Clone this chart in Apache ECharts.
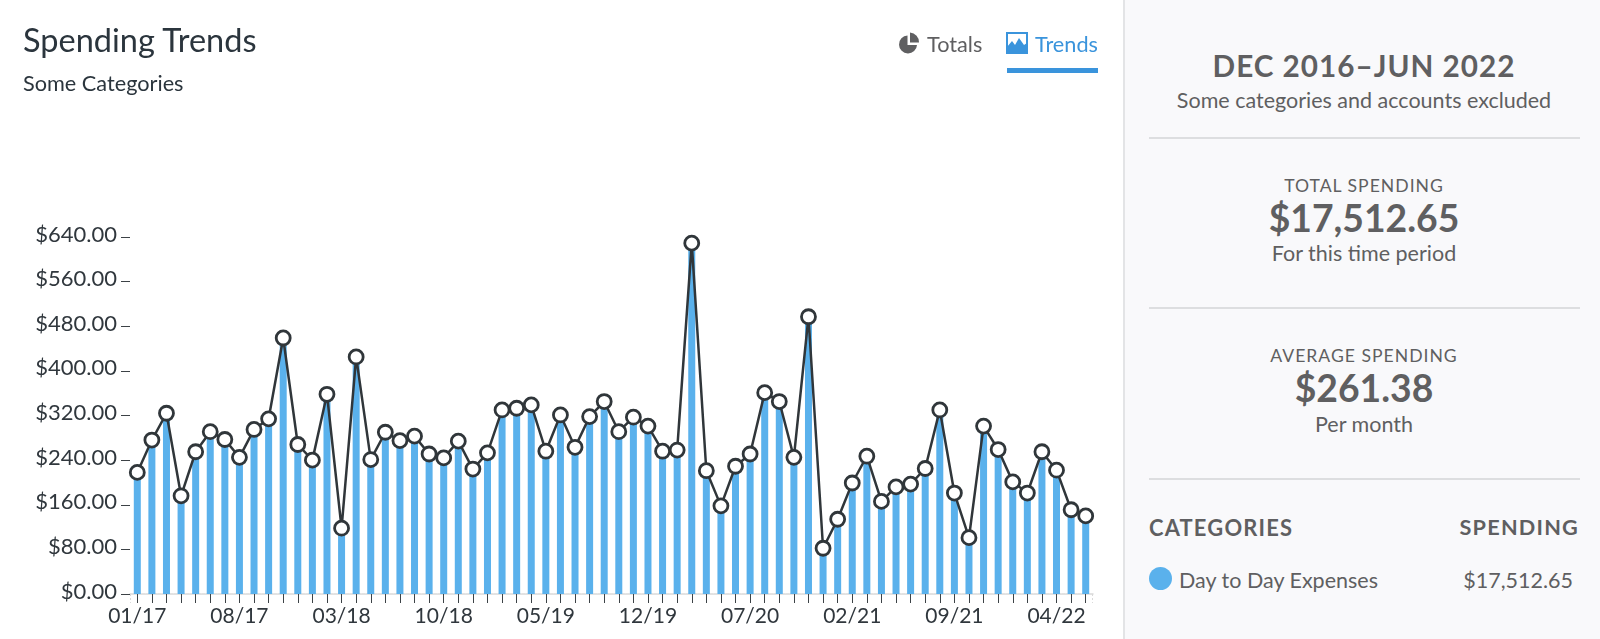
<!DOCTYPE html>
<html>
<head>
<meta charset="utf-8">
<script src="https://cdn.jsdelivr.net/npm/echarts@6/dist/echarts.min.js"></script>
<style>
html,body{margin:0;padding:0;background:#fff;width:1600px;height:639px;overflow:hidden;font-family:Lato,sans-serif;}
#chart{position:absolute;left:0;top:0;width:1123px;height:639px;}
#panel{position:absolute;left:1123px;top:0;width:477px;height:639px;background:#f9f9fb;border-left:2px solid #e3e4e6;box-sizing:border-box;}
.t{position:absolute;white-space:nowrap;transform:translateY(-50%);line-height:1;}
.c{transform:translate(-50%,-50%);}
.r{transform:translate(-100%,-50%);}
.hr{position:absolute;left:1149px;width:431px;height:1.5px;background:#dddee0;}
.g{color:#5f5f61;}
.b{font-weight:700;}
</style>
</head>
<body>
<div id="chart"></div>
<div id="panel"></div>
<div class="t" style="left:23px;top:40px;font-size:32.5px;color:#2b353d">Spending Trends</div>
<div class="t" style="left:23px;top:83.5px;font-size:21.7px;color:#2b353d">Some Categories</div>

<svg style="position:absolute;left:898px;top:32px" width="22" height="22" viewBox="0 0 22 22">
<path d="M9.5 3.5 A9 9 0 1 0 19 13 L9.5 13 Z" fill="#5f5f61"/><path d="M12 0.5 A9.5 9.5 0 0 1 21 10.5 L12 10.5 Z" fill="#5f5f61"/></svg>
<div class="t g" style="left:927px;top:44.5px;font-size:21.7px">Totals</div>
<svg style="position:absolute;left:1006px;top:32px" width="22" height="22" viewBox="0 0 22 22">
<rect x="1" y="1" width="20" height="20" fill="#fff" stroke="#3a94dc" stroke-width="2"/>
<path d="M1 21 L1 15 L6 9 L9 13 L13 6 L18 13 L21 11 L21 21 Z" fill="#3a94dc"/></svg>
<div class="t" style="left:1035px;top:44.5px;font-size:21.7px;color:#3a94dc">Trends</div>
<div style="position:absolute;left:1007px;top:68px;width:91px;height:5px;background:#3a94dc"></div>

<div class="t c g b" style="left:1364px;top:66px;font-size:29.7px;letter-spacing:1px">DEC 2016–JUN 2022</div>
<div class="t c g" style="left:1364px;top:100.5px;font-size:21.5px">Some categories and accounts excluded</div>
<div class="hr" style="top:137px"></div>
<div class="t c g" style="left:1364px;top:186px;font-size:17.6px;letter-spacing:1px">TOTAL SPENDING</div>
<div class="t c g b" style="left:1364px;top:218px;font-size:37.3px">$17,512.65</div>
<div class="t c g" style="left:1364px;top:254px;font-size:21.5px">For this time period</div>
<div class="hr" style="top:307px"></div>
<div class="t c g" style="left:1364px;top:356px;font-size:17.6px;letter-spacing:1px">AVERAGE SPENDING</div>
<div class="t c g b" style="left:1364px;top:388px;font-size:37.3px">$261.38</div>
<div class="t c g" style="left:1364px;top:425px;font-size:21.5px">Per month</div>
<div class="hr" style="top:478px"></div>
<div class="t g b" style="left:1149px;top:528px;font-size:21.9px;letter-spacing:1.2px">CATEGORIES</div>
<div class="t r g b" style="left:1579px;top:528px;font-size:21.7px;letter-spacing:1.2px">SPENDING</div>
<div style="position:absolute;left:1149px;top:567px;width:23px;height:23px;border-radius:50%;background:#5ab1ec"></div>
<div class="t g" style="left:1179px;top:581px;font-size:21.5px">Day to Day Expenses</div>
<div class="t r g" style="left:1573px;top:581px;font-size:21.5px">$17,512.65</div>

<script>
var categories = ["01/17","02/17","03/17","04/17","05/17","06/17","07/17","08/17","09/17","10/17","11/17","12/17",
"01/18","02/18","03/18","04/18","05/18","06/18","07/18","08/18","09/18","10/18","11/18","12/18",
"01/19","02/19","03/19","04/19","05/19","06/19","07/19","08/19","09/19","10/19","11/19","12/19",
"01/20","02/20","03/20","04/20","05/20","06/20","07/20","08/20","09/20","10/20","11/20","12/20",
"01/21","02/21","03/21","04/21","05/21","06/21","07/21","08/21","09/21","10/21","11/21","12/21",
"01/22","02/22","03/22","04/22","05/22","06/22"];
var spending = [218,276,324,176,255,291,277,245,295,314,459,268,
240,358,118,425,241,290,275,283,251,244,274,224,
253,330,333,339,256,321,263,318,345,291,317,301,
256,258,629,221,158,229,251,361,345,245,497,82,
134,199,247,166,192,197,225,330,181,101,301,259,
201,181,255,222,151,140];
var yTicks = {min:0, max:640, step:80};
var seriesName = "Day to Day Expenses";

var chart = echarts.init(document.getElementById('chart'), null, {renderer:'canvas'});
var textColor = '#30373d';
var endTick = {stroke:'#d9d9d9',lineWidth:1,lineDash:[2,2]};
chart.setOption({
  animation:false,
  grid:{left:130,width:963,top:237,bottom:45,containLabel:false},
  xAxis:{
    type:'category',data:categories,boundaryGap:true,
    axisLine:{show:true,lineStyle:{color:'#d9d9d9',width:1.5,type:[3,1]}},
    axisTick:{show:true,alignWithLabel:true,interval:0,length:9,lineStyle:{color:'#3c4246',width:1}},
    axisLabel:{interval:6,color:textColor,fontFamily:'Lato',fontSize:21,margin:12,hideOverlap:false},
    splitLine:{show:false}
  },
  yAxis:{
    type:'value',min:yTicks.min,max:yTicks.max,interval:yTicks.step,
    axisLine:{show:false},
    axisTick:{show:true,length:9,lineStyle:{color:'#3c4246',width:1}},
    axisLabel:{color:textColor,fontFamily:'Lato',fontSize:22,margin:13,verticalAlign:'bottom',lineHeight:5,formatter:function(v){return '$'+v.toFixed(2);}},
    splitLine:{show:false}
  },
  graphic:[
    {type:'line',silent:true,shape:{x1:130.5,y1:594,x2:130.5,y2:603},style:endTick},
    {type:'line',silent:true,shape:{x1:1092.5,y1:594,x2:1092.5,y2:603},style:endTick}
  ],
  series:[
    {type:'bar',name:seriesName,data:spending,barWidth:7,itemStyle:{color:'#5ab1ec'},z:2},
    {type:'line',name:seriesName,data:spending,z:3,showSymbol:true,showAllSymbol:true,symbol:'circle',symbolSize:14,clip:false,
      lineStyle:{color:'#30363a',width:2.5},
      itemStyle:{color:'#ffffff',borderColor:'#30363a',borderWidth:2.8}}
  ]
});
</script>
</body>
</html>
